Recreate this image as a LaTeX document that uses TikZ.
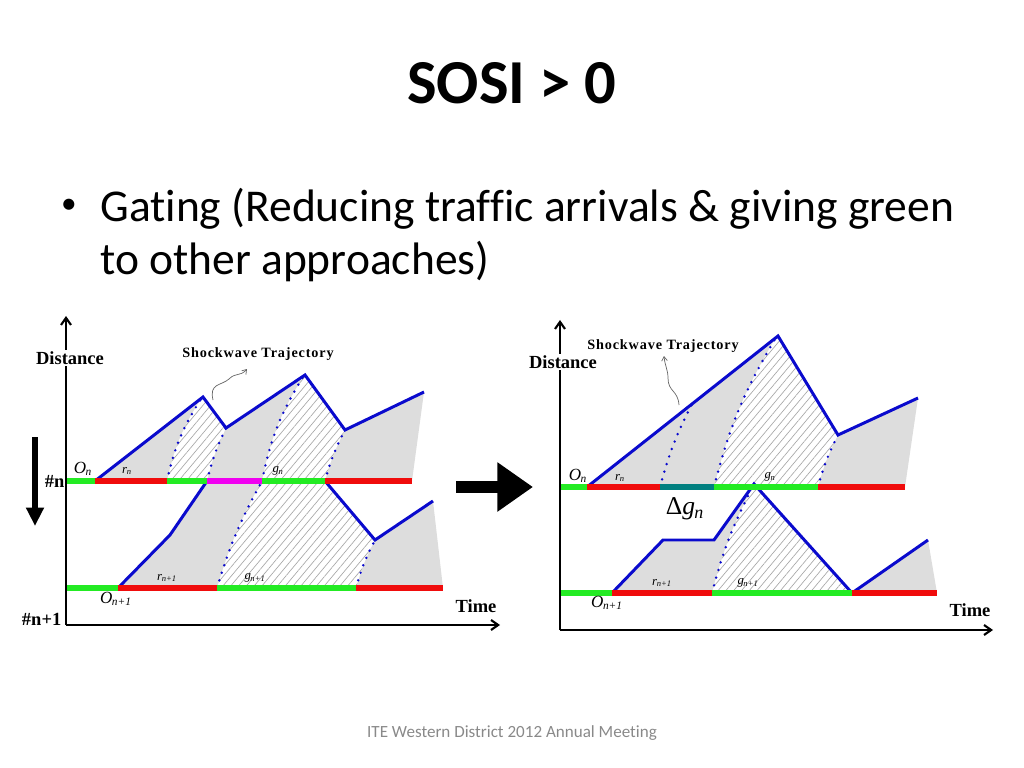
\documentclass[tikz,border=0pt]{standalone}
\usepackage{fontspec}
\setmainfont{Carlito}[Ligatures=NoCommon]
\newfontfamily\diagfont{Liberation Serif}
\newfontfamily\shockfont[LetterSpace=6]{Liberation Serif}
\usepackage{xcolor}
\usepackage{tikz}
\usetikzlibrary{
    arrows.meta,
    positioning,
    patterns.meta
}
\definecolor{queueblue}{RGB}{10,10,205}
\definecolor{sigred}{RGB}{240,12,12}
\definecolor{siggreen}{RGB}{35,235,35}
\definecolor{sigmagenta}{RGB}{240,0,240}
\definecolor{sigteal}{RGB}{0,128,128}
\definecolor{queuegray}{RGB}{221,221,221}
\definecolor{footgray}{RGB}{137,137,137}
\tikzstyle{queue} = [
    draw=queueblue,
    line width=2.1pt,
    line join=miter
]
\tikzstyle{wavedots} = [
    draw=queueblue,
    line width=1.9pt,
    line cap=round,
    dash pattern=on 0pt off 5.6pt
]
\tikzstyle{hatched} = [
    fill=white,
    postaction={pattern={Lines[angle=50,distance=4.2pt,line width=0.45pt]},
                pattern color=black!35}
]
\newcommand{\qlab}[2]{\textit{#1}\textsubscript{\kern-0.05em\textit{#2}}}

\begin{document}
\begin{tikzpicture}[
    x=0.703125pt, y=-0.703125pt,
    bar/.style={line width=3.6pt},
    axis/.style={line width=1.5pt, -{Straight Barb[length=5pt,width=7pt]}},
    squig/.style={draw=black!60, line width=0.5pt, -{Straight Barb[length=3pt,width=4pt]}},
    axlabel/.style={font=\diagfont\fontsize{13}{15}\selectfont\bfseries, inner sep=1pt, fill=white},
    shock/.style={font=\shockfont\fontsize{10}{12}\selectfont\bfseries, inner sep=0pt},
    sig/.style={font=\diagfont\fontsize{12}{14}\selectfont, inner sep=0pt},
    sigsmall/.style={font=\diagfont\fontsize{9}{11}\selectfont, inner sep=0pt}
]
\useasboundingbox (0,0) rectangle (1024,768);

% Titel und Text
\node[anchor=base, inner sep=0pt, font=\fontsize{44}{50}\selectfont\bfseries] (title) at (512,104) {SOSI > 0};
\node[inner sep=0pt, font=\fontsize{22}{26}\selectfont] (bullet) at (69,206) {•};
\node[anchor=base west, inner sep=0pt, font=\fontsize{32}{38}\selectfont] (line1) at (100,222)
    {Gating (Reducing traffic arrivals \& giving green};
\node[anchor=base west, inner sep=0pt, font=\fontsize{32}{38}\selectfont] (line2) at (100,275)
    {to other approaches)};
\node[inner sep=0pt, font=\fontsize{12}{14}\selectfont, text=footgray] (footer) at (512,733)
    {ITE Western District 2012 Annual Meeting};

% linkes Diagramm: Punkte
\coordinate (LO) at (95,481);
\coordinate (P1) at (203,397);
\coordinate (V1) at (226,428);
\coordinate (P2) at (305,375);
\coordinate (V2) at (345,430);
\coordinate (P3) at (424,392);
\coordinate (E1) at (412,481);
\coordinate (LO2) at (118,588);
\coordinate (K1) at (170,535);
\coordinate (V3) at (375,540);
\coordinate (P4) at (433,501);
\coordinate (E2) at (443,588);
\coordinate (a1) at (167,481);
\coordinate (a2) at (201,399);
\coordinate (b1) at (207,481);
\coordinate (c1) at (262,481);
\coordinate (c2) at (303,377);
\coordinate (d1) at (325,481);
\coordinate (e1) at (217,588);
\coordinate (f1) at (356,588);

% linkes Diagramm: Flaechen
\fill[queuegray] (LO) -- (P1) -- (V1) -- (P2) -- (V2) -- (P3) -- (E1) -- cycle;
\fill[queuegray] (LO2) -- (K1) -- (b1) -- (d1) -- (V3) -- (P4) -- (E2) -- cycle;
\path[hatched] (a1) to[bend left=10] (a2) -- (P1) -- (V1) to[bend right=6] (b1) -- cycle;
\path[hatched] (c1) to[bend left=10] (c2) -- (P2) -- (V2) to[bend right=6] (d1) -- cycle;
\path[hatched] (e1) to[bend left=6] (c1) -- (d1) -- (V3) to[bend right=6] (f1) -- cycle;

% Stosswellen
\draw[wavedots] (a1) to[bend left=10] (a2);
\draw[wavedots] (b1) to[bend left=6] (V1);
\draw[wavedots] (c1) to[bend left=10] (c2);
\draw[wavedots] (d1) to[bend left=6] (V2);
\draw[wavedots] (e1) to[bend left=6] (c1);
\draw[wavedots] (f1) to[bend left=6] (V3);

% Warteschlangen
\draw[queue] (LO) -- (P1) -- (V1) -- (P2) -- (V2) -- (P3);
\draw[queue] (LO2) -- (K1) -- (b1);
\draw[queue] (d1) -- (V3) -- (P4);

% Signalphasen
\draw[bar, siggreen] (66,481) -- (LO);
\draw[bar, sigred] (LO) -- (a1);
\draw[bar, siggreen] (a1) -- (b1);
\draw[bar, sigmagenta] (b1) -- (c1);
\draw[bar, siggreen] (c1) -- (d1);
\draw[bar, sigred] (d1) -- (E1);
\draw[bar, siggreen] (66,588) -- (LO2);
\draw[bar, sigred] (LO2) -- (e1);
\draw[bar, siggreen] (e1) -- (f1);
\draw[bar, sigred] (f1) -- (E2);

% Achsen
\coordinate (lorigin) at (66,625);
\draw[axis] (lorigin) -- (66,316);
\draw[axis] (lorigin) -- (500,625);
\draw[line width=3.6pt, -{Triangle[length=13pt,width=12pt]}] (35,437) -- (35,526);

% Beschriftung
\node[axlabel] (ldist) at (70,358) {Distance};
\node[axlabel, anchor=east, fill=none] (lrown) at (66,481) {\#n};
\node[axlabel, anchor=east, fill=none] (lrownn) at (63,619) {\#n+1};
\node[axlabel] (ltime) at (476,606) {Time};
\node[shock] (lshock) at (258,354) {Shockwave Trajectory};
\coordinate (lsq) at (213,400);
\coordinate (lsqtip) at (247,369);
\draw[squig] (lsq) .. controls (209,383) and (221,386) .. (229,379) .. controls (236,372) and (240,377) .. (lsqtip);
\node[sig] (lon) at (83,469) {\qlab{O}{n}};
\node[sigsmall] (lrn) at (127,471) {\qlab{r}{n}};
\node[sigsmall] (lgn) at (278,471) {\qlab{g}{n}};
\node[sigsmall] (lrn1) at (167,578) {\qlab{r}{n+1}};
\node[sigsmall] (lgn1) at (255,578) {\qlab{g}{n+1}};
\node[sig] (lon1) at (116,599) {\qlab{O}{n+1}};

% Pfeil
\draw[line width=9pt, -{Triangle[length=25pt,width=33pt]}] (456,487) -- (533,487);

% rechtes Diagramm: Punkte
\coordinate (RO) at (587,487);
\coordinate (Q1) at (778,336);
\coordinate (W1) at (838,435);
\coordinate (Q2) at (918,398);
\coordinate (R1) at (905,487);
\coordinate (RO2) at (612,593);
\coordinate (K2) at (663,540);
\coordinate (K3) at (714,540);
\coordinate (Q3) at (754,484);
\coordinate (W2) at (852,593);
\coordinate (Q4) at (928,540);
\coordinate (R2) at (937,593);
\coordinate (g1) at (660,487);
\coordinate (g2) at (692,404);
\coordinate (h1) at (714,487);
\coordinate (h2) at (775,339);
\coordinate (i1) at (818,487);
\coordinate (j1) at (712,593);
\coordinate (j2) at (750,492);

% rechtes Diagramm: Flaechen
\fill[queuegray] (RO) -- (Q1) -- (W1) -- (Q2) -- (R1) -- cycle;
\fill[queuegray] (RO2) -- (K2) -- (K3) -- (Q3) -- (W2) -- cycle;
\fill[queuegray] (W2) -- (Q4) -- (R2) -- cycle;
\path[hatched] (h1) to[bend left=8] (h2) -- (Q1) -- (W1) to[bend right=6] (i1) -- cycle;
\path[hatched] (j1) to[bend left=6] (j2) -- (Q3) -- (W2) -- cycle;

% Stosswellen
\draw[wavedots] (g1) to[bend left=6] (g2);
\draw[wavedots] (h1) to[bend left=8] (h2);
\draw[wavedots] (i1) to[bend left=6] (W1);
\draw[wavedots] (j1) to[bend left=6] (j2);

% Warteschlangen
\draw[queue] (RO) -- (Q1) -- (W1) -- (Q2);
\draw[queue] (RO2) -- (K2) -- (K3) -- (Q3) -- (W2) -- (Q4);

% Signalphasen
\draw[bar, siggreen] (560,487) -- (RO);
\draw[bar, sigred] (RO) -- (g1);
\draw[bar, sigteal] (g1) -- (h1);
\draw[bar, siggreen] (h1) -- (i1);
\draw[bar, sigred] (i1) -- (R1);
\draw[bar, siggreen] (560,593) -- (RO2);
\draw[bar, sigred] (RO2) -- (j1);
\draw[bar, siggreen] (j1) -- (W2);
\draw[bar, sigred] (W2) -- (R2);

% Achsen
\coordinate (rorigin) at (560,630);
\draw[axis] (rorigin) -- (560,320);
\draw[axis] (rorigin) -- (993,630);

% Beschriftung
\node[axlabel] (rdist) at (563,362) {Distance};
\node[axlabel] (rtime) at (970,610) {Time};
\node[shock] (rshock) at (663,346) {Shockwave Trajectory};
\coordinate (rsq) at (679,405);
\coordinate (rsqtip) at (664,356);
\draw[squig] (rsq) .. controls (678,390) and (668,392) .. (668,378) .. controls (668,370) and (665,366) .. (rsqtip);
\node[sig] (ron) at (578,476) {\qlab{O}{n}};
\node[sigsmall] (rrn) at (620,478) {\qlab{r}{n}};
\node[sigsmall] (rgn) at (770,477) {\qlab{g}{n}};
\node[font=\diagfont\fontsize{18}{20}\selectfont, inner sep=0pt] (dgn) at (685,509) {Δ\qlab{g}{n}};
\node[sigsmall] (rrn1) at (662,583) {\qlab{r}{n+1}};
\node[sigsmall] (rgn1) at (748,583) {\qlab{g}{n+1}};
\node[sig] (ron1) at (607,603) {\qlab{O}{n+1}};

\end{tikzpicture}
\end{document}
